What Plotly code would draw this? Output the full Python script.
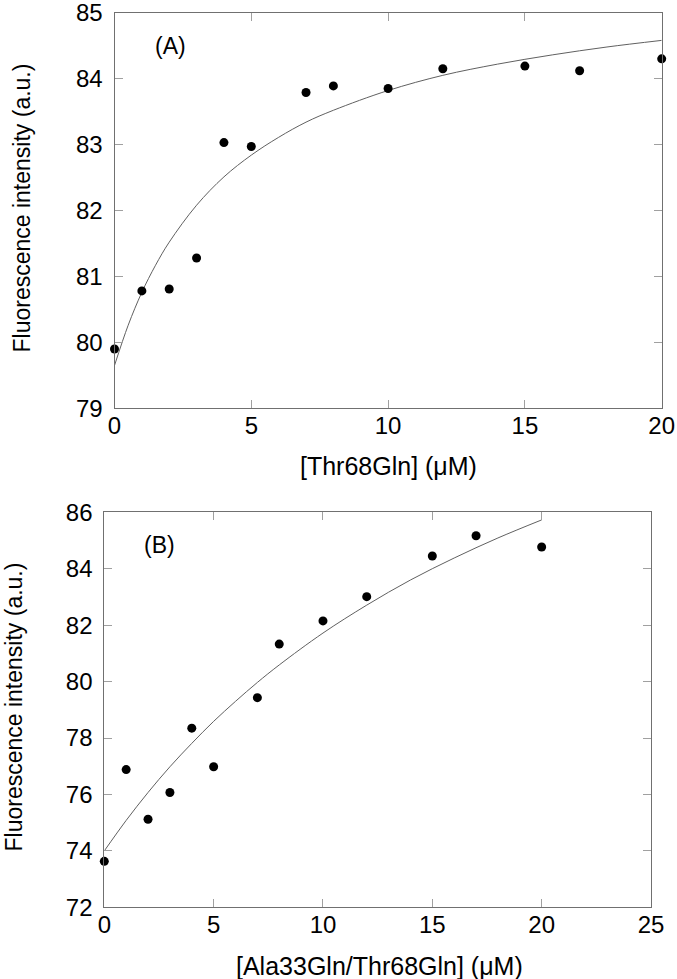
import plotly.graph_objects as go

# Panel A data: [Thr68Gln]
conc_a = [0, 1, 2, 3, 4, 5, 7, 8, 10, 12, 15, 17, 20]
fluor_a = [79.90, 80.78, 80.81, 81.28, 83.03, 82.97, 83.79, 83.89, 83.85, 84.15, 84.19, 84.12, 84.30]
# fitted curve A
fit_x_a = [0, 0.5, 1, 1.5, 2, 3, 4, 5, 6, 7, 8, 10, 12, 14, 16, 18, 20]
fit_y_a = [79.65, 80.26, 80.76, 81.17, 81.52, 82.08, 82.51, 82.84, 83.11, 83.34, 83.52,
           83.82, 84.05, 84.22, 84.36, 84.48, 84.58]

# Panel B data: [Ala33Gln/Thr68Gln]
conc_b = [0, 1, 2, 3, 4, 5, 7, 8, 10, 12, 15, 17, 20]
fluor_b = [73.63, 76.88, 75.12, 76.07, 78.35, 76.98, 79.43, 81.33, 82.15, 83.01, 84.45, 85.17, 84.77]
fit_x_b = [0, 1, 2, 3, 4, 5, 6, 7, 8, 10, 12, 14, 16, 18, 20]
fit_y_b = [74.00, 75.08, 76.07, 76.98, 77.81, 78.59, 79.30, 79.97, 80.59, 81.72, 82.71,
           83.60, 84.38, 85.09, 85.73]

ticks_xa = [0, 5, 10, 15, 20]
ticks_ya = [79, 80, 81, 82, 83, 84, 85]
ticks_xb = [0, 5, 10, 15, 20, 25]
ticks_yb = [72, 74, 76, 78, 80, 82, 84, 86]

FONT = "Liberation Sans, Arial, sans-serif"
W, H = 677, 979

fig = go.Figure()
line_style = dict(color="#606060", width=1)
marker_style = dict(color="black", size=9, symbol="circle")

fig.add_trace(go.Scatter(x=fit_x_a, y=fit_y_a, mode="lines", line=dict(shape="spline", **line_style),
                         xaxis="x", yaxis="y", showlegend=False, hoverinfo="skip"))
fig.add_trace(go.Scatter(x=conc_a, y=fluor_a, mode="markers", marker=marker_style,
                         xaxis="x", yaxis="y", showlegend=False, cliponaxis=False))
fig.add_trace(go.Scatter(x=fit_x_b, y=fit_y_b, mode="lines", line=dict(shape="spline", **line_style),
                         xaxis="x2", yaxis="y2", showlegend=False, hoverinfo="skip"))
fig.add_trace(go.Scatter(x=conc_b, y=fluor_b, mode="markers", marker=marker_style,
                         xaxis="x2", yaxis="y2", showlegend=False, cliponaxis=False))

def ax(rng, tickvals, domain, anchor, standoff):
    return dict(range=rng, tickvals=tickvals, domain=domain, anchor=anchor, automargin=False,
                showgrid=False, zeroline=False, showline=True, linecolor="#707070", linewidth=1,
                mirror="ticks", ticks="inside", ticklen=8, tickcolor="#a0a0a0", tickwidth=1,
                tickfont=dict(family=FONT, size=24, color="black"),
                ticklabelstandoff=standoff, ticklabeloverflow="allow")

pa_x = [114.5 / W, 661.7 / W]
pa_y = [1 - 408.3 / H, 1 - 12.7 / H]
pb_x = [104.3 / W, 651.0 / W]
pb_y = [1 - 907.3 / H, 1 - 512.3 / H]

fig.update_layout(
    width=W, height=H, margin=dict(l=0, r=0, t=0, b=0),
    paper_bgcolor="white", plot_bgcolor="white",
    xaxis=ax([0, 20], ticks_xa, pa_x, "y", -4),
    yaxis=ax([79, 85], ticks_ya, pa_y, "x", 6),
    xaxis2=ax([0, 25], ticks_xb, pb_x, "y2", -4),
    yaxis2=ax([72, 86], ticks_yb, pb_y, "x2", 6),
)

def note(text, x, y, size=24, angle=0, xref="paper", yref="paper"):
    fig.add_annotation(text=text, x=x, y=y, xref=xref, yref=yref, showarrow=False,
                       textangle=angle, font=dict(family=FONT, size=size, color="black"),
                       xanchor="center", yanchor="middle")

note("(A)", 2.03, 84.50, size=23, xref="x", yref="y")
note("(B)", 2.52, 84.84, size=23, xref="x2", yref="y2")
note("[Thr68Gln] (\u03bcM)", (114.5 + 661.7) / 2 / W, 1 - 466 / H, size=25)
note("[Ala33Gln/Thr68Gln] (\u03bcM)", (104.3 + 651.0) / 2 / W + 0.003, 1 - 966 / H, size=25)
note("Fluorescence intensity (a.u.)", 21 / W, 1 - 208.5 / H, size=23, angle=-90)
note("Fluorescence intensity (a.u.)", 13 / W, 1 - 707.5 / H, size=23, angle=-90)

fig.write_html("out.html", config={"displayModeBar": False},
               post_script="document.body.style.margin='0px';document.body.style.overflow='hidden';")
